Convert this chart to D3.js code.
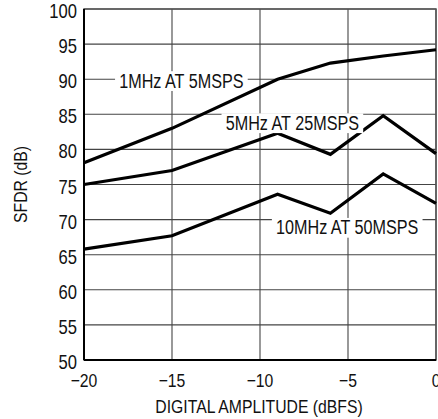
<!DOCTYPE html>
<html>
<head>
<meta charset="utf-8">
<script src="https://cdn.jsdelivr.net/npm/d3@7"></script>
<style>
  body { margin: 0; background: #fff; }
  svg { display: block; }
  text { font-family: "Liberation Sans", Arial, sans-serif; fill: #111; }
</style>
</head>
<body>
<svg id="chart" width="438" height="419"></svg>
<script>
// digital amplitude (dBFS) at each measured point
const amplitude = [-20, -15, -9, -6, -3, 0];

// SFDR (dB) per test condition
const sfdr1MHz = [78.1, 83.0, 90.0, 92.3, 93.3, 94.2];
const sfdr5MHz = [75.0, 77.0, 82.3, 79.3, 84.8, 79.4];
const sfdr10MHz = [65.8, 67.7, 73.6, 70.9, 76.5, 72.3];

const seriesNames = ['1MHz AT 5MSPS', '5MHz AT 25MSPS', '10MHz AT 50MSPS'];
// label anchor (left edge, baseline) in data units
const labelX = [-18.0, -11.95, -9.09];
const labelY = [88.8, 82.8, 67.9];

const xTicks = [-20, -15, -10, -5, 0];
const yTicks = [50, 55, 60, 65, 70, 75, 80, 85, 90, 95, 100];

const margin = { top: 9, right: 2, bottom: 59, left: 84 };
const width = 438, height = 419;
const narrow = 0.83; // condensed look of the original lettering

const svg = d3.select('#chart');
const innerW = width - margin.left - margin.right;
const innerH = height - margin.top - margin.bottom;

const g = svg.append('g')
  .attr('transform', `translate(${margin.left},${margin.top})`);

const x = d3.scaleLinear().domain([-20, 0]).range([0, innerW]);
const y = d3.scaleLinear().domain([50, 100]).range([innerH, 0]);

// put a squeezed text at px,py
function label(parent, px, py, str, anchor, size) {
  return parent.append('text')
    .attr('transform', `translate(${px},${py}) scale(${narrow},1)`)
    .attr('text-anchor', anchor)
    .attr('font-size', size)
    .text(str);
}

// grid
g.append('g')
  .selectAll('line')
  .data(yTicks)
  .join('line')
  .attr('x1', 0).attr('x2', innerW)
  .attr('y1', d => y(d)).attr('y2', d => y(d))
  .attr('stroke', '#444')
  .attr('stroke-width', 1.1);

g.append('g')
  .selectAll('line')
  .data(xTicks)
  .join('line')
  .attr('x1', d => x(d)).attr('x2', d => x(d))
  .attr('y1', 0).attr('y2', innerH)
  .attr('stroke', '#444')
  .attr('stroke-width', 1.1);

// frame
g.append('rect')
  .attr('x', 0).attr('y', 0)
  .attr('width', innerW).attr('height', innerH)
  .attr('fill', 'none')
  .attr('stroke', '#555')
  .attr('stroke-width', 1.5);

// curves
const line = d3.line()
  .x((d, i) => x(amplitude[i]))
  .y(d => y(d));

[sfdr1MHz, sfdr5MHz, sfdr10MHz].forEach(vals => {
  g.append('path')
    .datum(vals)
    .attr('d', line)
    .attr('fill', 'none')
    .attr('stroke', '#000')
    .attr('stroke-width', 3.2);
});

// series labels with white boxes over the grid
seriesNames.forEach((name, i) => {
  const lg = g.append('g')
    .attr('transform', `translate(${x(labelX[i])},${y(labelY[i])}) scale(${narrow},1)`);
  const rect = lg.append('rect').attr('fill', '#fff');
  const t = lg.append('text')
    .attr('font-size', 19.5)
    .text(name);
  const b = t.node().getBBox();
  rect.attr('x', b.x - 5).attr('y', b.y + 1)
    .attr('width', b.width + 10).attr('height', b.height - 2);
});

// axes (left and bottom heavier)
g.append('line')
  .attr('x1', 0).attr('x2', 0).attr('y1', 0).attr('y2', innerH)
  .attr('stroke', '#000').attr('stroke-width', 2);
g.append('line')
  .attr('x1', 0).attr('x2', innerW).attr('y1', innerH).attr('y2', innerH)
  .attr('stroke', '#000').attr('stroke-width', 2);

// tick labels
yTicks.forEach(d => label(g, -7, y(d) + 9, String(d), 'end', 20));
xTicks.forEach(d => label(g, x(d), innerH + 26.5,
  d === 0 ? '0' : '\u2212' + Math.abs(d), 'middle', 19));

// axis titles
label(svg, margin.left + innerW / 2 - 1, 413, 'DIGITAL AMPLITUDE (dBFS)', 'middle', 19);

svg.append('text')
  .attr('transform', `translate(26.5,${margin.top + innerH / 2}) rotate(-90) scale(${narrow},1)`)
  .attr('text-anchor', 'middle')
  .attr('font-size', 19)
  .text('SFDR (dB)');
</script>
</body>
</html>
